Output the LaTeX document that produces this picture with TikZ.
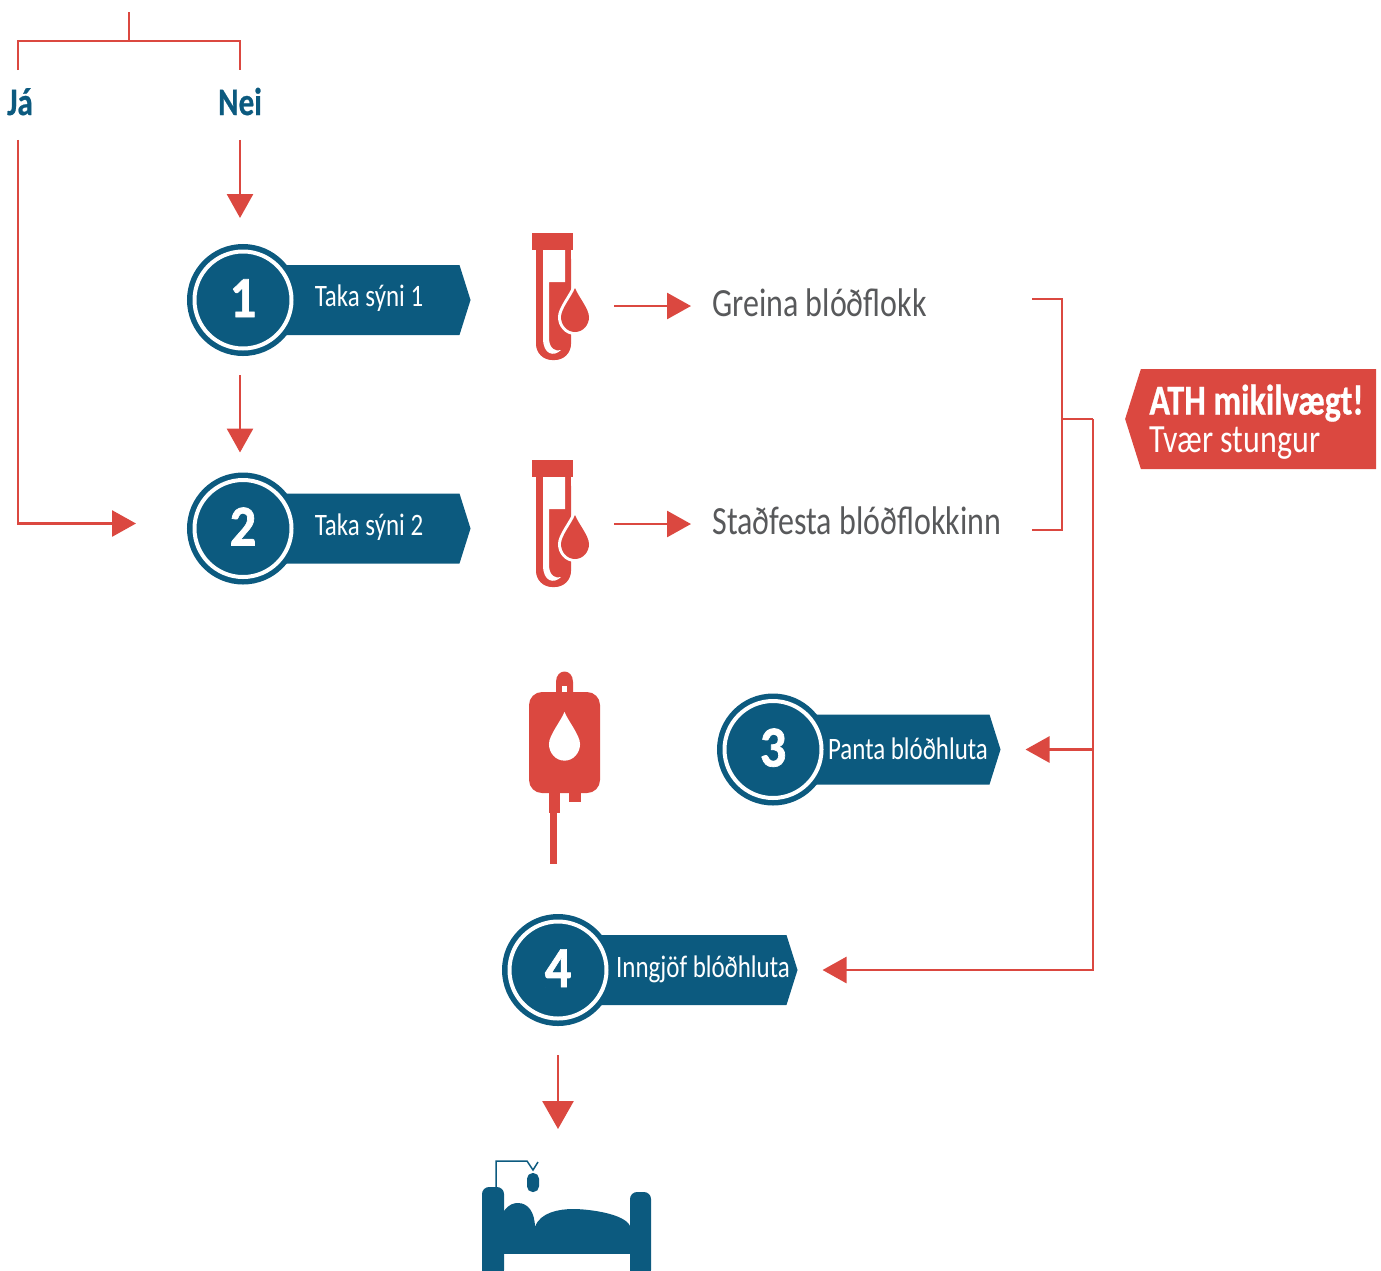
\documentclass[tikz,border=0pt]{standalone}
\usepackage{fontspec}
\setmainfont[FakeStretch=0.8]{Carlito}
\newfontfamily\heavyfont[FakeStretch=0.8,FakeBold=0.6]{Carlito}
\newfontfamily\digitfont[FakeStretch=0.9,FakeBold=1.2]{Carlito}
\usetikzlibrary{positioning}
\usetikzlibrary{arrows.meta}
\usetikzlibrary{shapes.symbols}
\definecolor{stepblue}{HTML}{0C5A7F}
\definecolor{linkred}{HTML}{DB4840}
\definecolor{labelgray}{HTML}{58595B}
\tikzset{
wire/.style={ % Thin red lines without a head
draw=linkred,
line width=1.4pt},
link/.style={ % Red lines with a big head
wire,
-{Triangle[length=12pt,width=13pt]}},
badge/.style={ % Blue disc with the white ring
circle,
fill=stepblue,
draw=white,
line width=2pt,
preaction={draw=stepblue,line width=7.5pt},
minimum size=48.5pt,
outer sep=3.75pt,
inner sep=0pt,
text=white,
text height=19pt,
text depth=2pt,
font=\fontsize{29}{29}\digitfont\bfseries},
banner/.style={ % Blue arrow shape behind the disc
signal,
signal to=east,
signal pointer angle=145,
fill=stepblue,
minimum height=35pt,
inner sep=0pt,
outer sep=0pt},
bannertext/.style={
text=white,
inner sep=0pt,
font=\fontsize{15.6}{15.6}\selectfont},
result/.style={
anchor=west,
text=labelgray,
inner sep=0pt,
text height=13pt,
text depth=3pt,
font=\fontsize{20}{20}\selectfont},
answer/.style={
text=stepblue,
text height=22.25pt,
text depth=12.25pt,
inner sep=0pt,
font=\fontsize{19.4}{19.4}\heavyfont\bfseries},
blooddrop/.pic={
\path[pic actions] (0,-29) .. controls (3,-21) and (14,-8) .. (14,0)
.. controls (14,8) and (8,15) .. (0,15)
.. controls (-8,15) and (-14,8) .. (-14,0)
.. controls (-14,-8) and (-3,-21) .. (0,-29) -- cycle;},
bloodtube/.pic={
\fill[linkred] (0,0) rectangle (41,17);
\fill[linkred,rounded corners=8pt] (4,10) -- (4,127) -- (39,127) -- (39,10) -- cycle;
\fill[linkred] (4,10) rectangle (39,30);
\fill[white] (11,17) -- (33,17) -- (33,49) -- (17,49) -- (17,105)
.. controls (17,116) and (24,119) .. (29,117)
.. controls (22,124) and (11,122) .. (11,105) -- cycle;
\pic[fill=white,draw=white,line width=3pt] at (43,84) {blooddrop};
\pic[fill=linkred] at (43,84) {blooddrop};
\coordinate (-out) at (82,73);}
}
\begin{document}
\begin{tikzpicture}[x=0.5pt,y=-0.5pt]
\useasboundingbox (0,0) rectangle (1381,1270);

% yes / no
\coordinate (treetop) at (129,12);
\coordinate (treefork) at (129,41);
\node[answer] (ja) at (20,105) {Já};
\node[answer] (nei) at (240,105) {Nei};
\draw[wire] (treetop) -- (treefork);
\draw[wire] ([xshift=-1pt]ja.north) |- (treefork) -| (nei.north);

% the four steps
\node[banner,minimum width=113.5pt] (banner1) at (351.5,300) {};
\node[badge] (step1) at (243,300) {1};
\node[bannertext] (label1) at (369,298) {Taka sýni 1};
\node[banner,minimum width=113.5pt] (banner2) at (351.5,528.5) {};
\node[badge] (step2) at (243,528.5) {2};
\node[bannertext] (label2) at (369,527) {Taka sýni 2};
\node[banner,minimum width=113.5pt] (banner3) at (881.5,749.5) {};
\node[badge] (step3) at (773,749.5) {3};
\node[bannertext] (label3) at (908,749) {Panta blóðhluta};
\node[banner,minimum width=119.5pt] (banner4) at (672.5,970) {};
\node[badge] (step4) at (558,970) {4};
\node[bannertext] (label4) at (703,969) {Inngjöf blóðhluta};

\draw[link,shorten >=13pt] (nei.south) -- (nei.south |- step1.north);
\draw[link,shorten <=9.5pt,shorten >=10pt] (nei.south |- step1.south) -- (nei.south |- step2.north);
\draw[link,shorten >=25.5pt] ([xshift=-1pt]ja.south) |- ([yshift=2.5pt]step2.west);

% samples
\pic (tube1) at (532,233) {bloodtube};
\pic (tube2) at (532,460) {bloodtube};
\node[result] (type1) at (712,306) {Greina blóðflokk};
\node[result] (type2) at (712,524) {Staðfesta blóðflokkinn};
\draw[link,shorten >=10.5pt] (tube1-out |- type1.west) -- (type1.west);
\draw[link,shorten >=10.5pt] (tube2-out |- type2.west) -- (type2.west);

% bracket and bus
\coordinate (brktop) at (1032,299);
\coordinate (brkbot) at (1032,530);
\coordinate (brkmid) at (1062,419);
\coordinate (bus) at (1093,419);
\draw[wire] (brktop) -| (brkmid) |- (brkbot);
\draw[wire] (brkmid) -- (bus);
\draw[link,shorten >=12.5pt] (bus) |- (banner4.east);
\draw[link,shorten >=12.5pt] (bus |- banner3.east) -- (banner3.east);

% warning
\node[banner,signal to=west,fill=linkred,minimum width=125.5pt,minimum height=50pt] (warn) at (1258.5,419) {};
\node[anchor=west,text=white,inner sep=0pt,align=left,font=\fontsize{20}{19}\selectfont] (warntext) at (1149,422)
{{\fontsize{21.3}{19}\heavyfont\bfseries ATH mikilvægt!}\\Tvær stungur};

% blood bag
\fill[linkred] (556,695) -- (556,682) .. controls (556,668) and (573,668) .. (573,682) -- (573,695) -- cycle;
\fill[white] (562,686) rectangle (567,692);
\fill[linkred,rounded corners=6.5pt] (529,692) rectangle (600,793);
\fill[linkred] (549,790) rectangle (560,813);
\fill[linkred] (550,810) rectangle (557,864);
\fill[linkred] (569,790) rectangle (581,802);
\pic[fill=white,scale=1.11] at (564.5,744) {blooddrop};

% bed
\coordinate (bedtop) at (557,1129);
\draw[link,-{Triangle[length=14pt,width=15.5pt]},shorten <=14.5pt] (step4.south) -- (step4.south |- bedtop);
\fill[stepblue,rounded corners=3.5pt] (482,1277) -- (482,1187) -- (504,1187) -- (504,1277) -- cycle;
\fill[stepblue,rounded corners=3.5pt] (630,1277) -- (630,1192) -- (651,1192) -- (651,1277) -- cycle;
\fill[stepblue] (500,1226) rectangle (635,1254);
\fill[stepblue] (504,1211) .. controls (509,1204) and (514,1203) .. (518,1203)
.. controls (528,1203) and (535,1212) .. (535,1228) -- (504,1228) -- cycle;
\fill[stepblue] (535,1227) .. controls (540,1212) and (560,1209) .. (573,1209)
.. controls (590,1209) and (625,1214) .. (630,1226) -- cycle;
\draw[stepblue,line width=0.75pt] (496,1187) -- (496,1161) -- (527,1161) -- (533,1170) -- (538,1162);
\fill[stepblue,rounded corners=2.8pt] (527,1173) rectangle (539,1192);
\end{tikzpicture}
\end{document}
